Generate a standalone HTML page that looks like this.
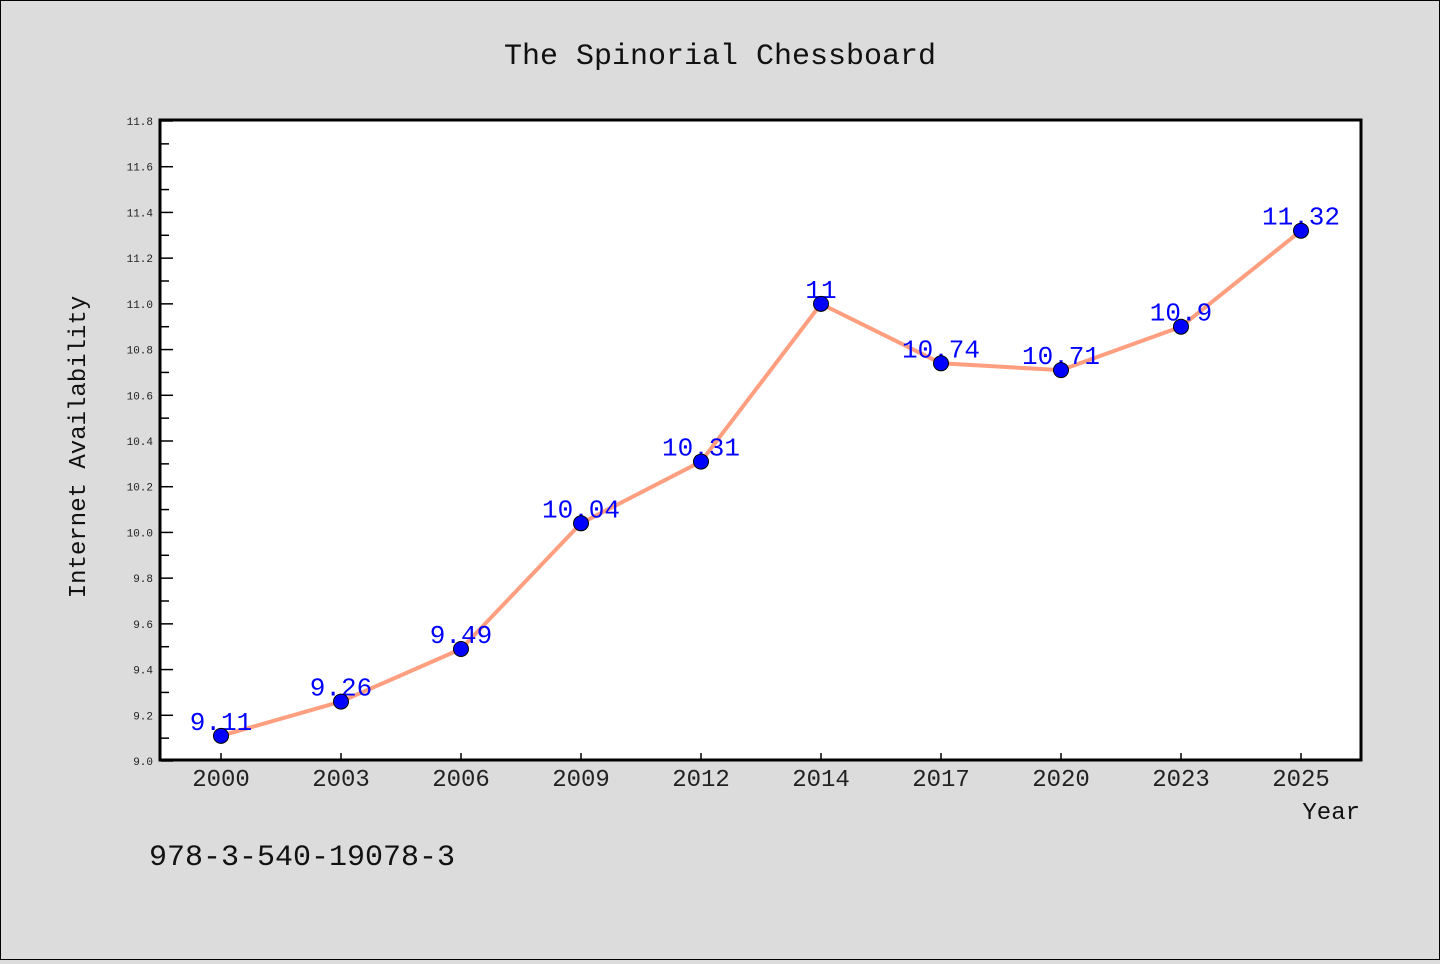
<!DOCTYPE html>
<html><head><meta charset="utf-8">
<style>
html,body{margin:0;padding:0;background:#dcdcdc;}
#wrap{width:1438px;height:958px;border:1px solid #000;background:#dcdcdc;position:relative;}
svg text{font-family:"Liberation Mono","DejaVu Sans Mono",monospace;}
</style></head>
<body>
<div id="wrap">
<svg id="chart" width="1438" height="958">
<text x="719" y="63" text-anchor="middle" font-size="30" fill="#111">The Spinorial Chessboard</text>
<rect x="159" y="119" width="1201" height="640" fill="#fff" stroke="#000" stroke-width="3"/>
<g id="yaxis"></g>
<g id="xaxis"></g>
<g id="series"></g>
<text transform="translate(84,446) rotate(-90)" text-anchor="middle" font-size="24" fill="#111">Internet Availability</text>
<text x="1359" y="818" text-anchor="end" font-size="24" fill="#111">Year</text>
<text x="148" y="864" font-size="30" fill="#111">978-3-540-19078-3</text>
</svg>
</div>
<script>
const categories = ["2000","2003","2006","2009","2012","2014","2017","2020","2023","2025"];
const values = [9.11,9.26,9.49,10.04,10.31,11,10.74,10.71,10.9,11.32];
const valueLabels = ["9.11","9.26","9.49","10.04","10.31","11","10.74","10.71","10.9","11.32"];
const yTicks = ["9.0","9.2","9.4","9.6","9.8","10.0","10.2","10.4","10.6","10.8","11.0","11.2","11.4","11.6","11.8"];
const yMin = 9.0, yMax = 11.8;
const NS="http://www.w3.org/2000/svg";
const plotTop=120, plotBottom=760, plotLeft=160;
function yS(v){return plotBottom-(v-yMin)/(yMax-yMin)*(plotBottom-plotTop);}
function xS(i){return 220+i*120;}
function mk(tag,attrs,parent){const e=document.createElementNS(NS,tag);for(const k in attrs)e.setAttribute(k,attrs[k]);parent.appendChild(e);return e;}
const ya=document.getElementById('yaxis'), xa=document.getElementById('xaxis'), sg=document.getElementById('series');
yTicks.forEach((t,i)=>{
  const v=parseFloat(t), yy=yS(v);
  const ln=mk('line',{x1:plotLeft,x2:plotLeft+12,y1:yy,y2:yy,stroke:'#000','stroke-width':1.5},ya);
  
  
  const tx=mk('text',{x:152,y:yy+4,'text-anchor':'end','font-size':11,fill:'#222'},ya);
  tx.textContent=t;
  
  
  if(i<yTicks.length-1){
    const ym=yS(v+0.1);
    const mn=mk('line',{x1:plotLeft,x2:plotLeft+8,y1:ym,y2:ym,stroke:'#000','stroke-width':1.5},ya);
    
    
  }
});
categories.forEach((c,i)=>{
  const xx=xS(i);
  const ln=mk('line',{x1:xx,x2:xx,y1:plotBottom,y2:plotBottom-8,stroke:'#000','stroke-width':1.5},xa);
  
  
  const tx=mk('text',{x:xx,y:785,'text-anchor':'middle','font-size':24,fill:'#222'},xa);
  tx.textContent=c;
  
  
});
const pl=mk('polyline',{points:values.map((v,i)=>xS(i)+','+yS(v)).join(' '),fill:'none',stroke:'#ff9f7f','stroke-width':4,'stroke-linejoin':'round'},sg);


values.forEach((v,i)=>{
  const tx=mk('text',{x:xS(i),y:yS(v)-6,'text-anchor':'middle','font-size':26,fill:'#0000ff'},sg);
  tx.textContent=valueLabels[i];
  
  
});
values.forEach((v,i)=>{
  const c=mk('circle',{cx:xS(i),cy:yS(v),r:7.5,fill:'#0000ff',stroke:'#000','stroke-width':1},sg);
  
  
});
</script>
</body></html>
